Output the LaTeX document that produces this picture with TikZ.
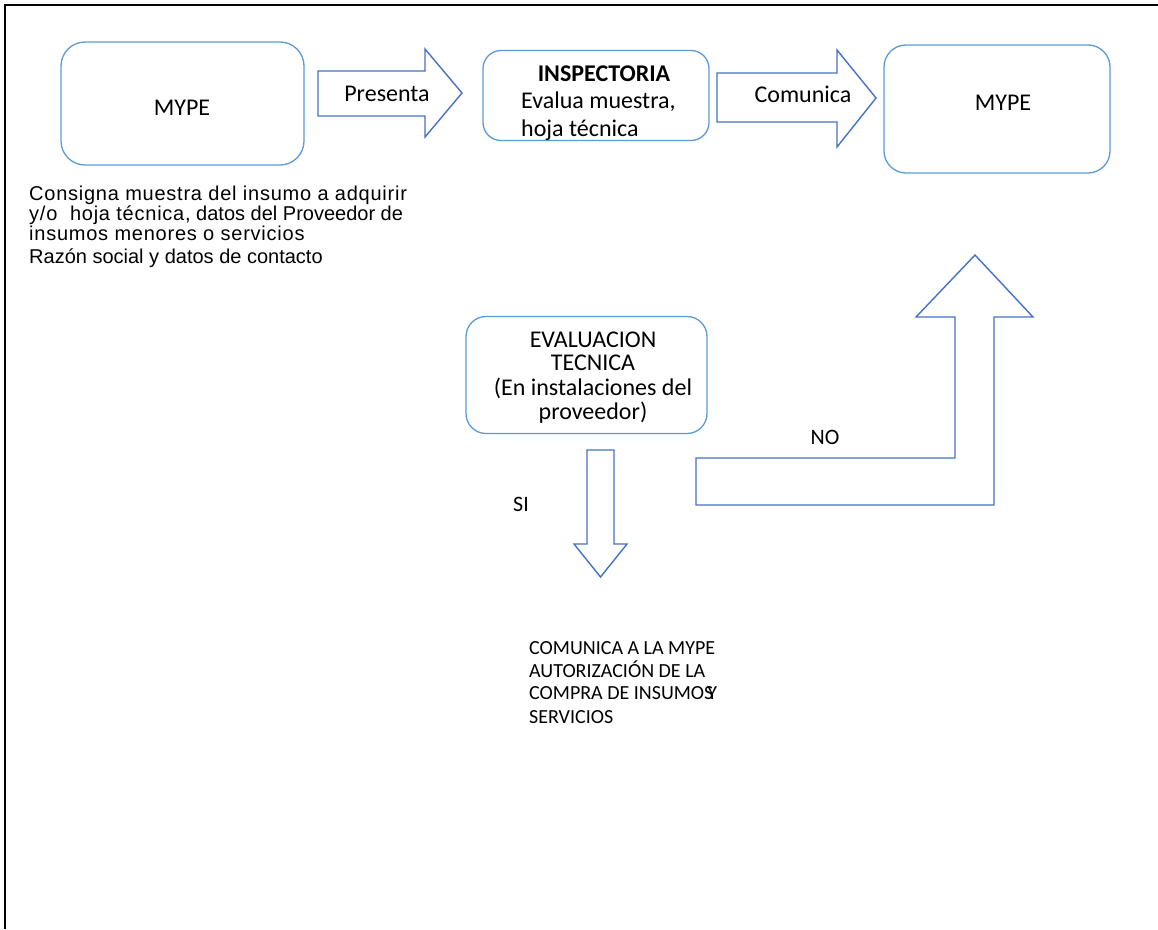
\documentclass[tikz,border=0pt]{standalone}
\usepackage{fontspec}
\setmainfont{Carlito}
\newfontfamily\arialf{Liberation Sans}
\newfontfamily\arialsp[LetterSpace=3.8]{Liberation Sans}
\definecolor{boxblue}{HTML}{5B9BD5}
\definecolor{arrblue}{HTML}{4472C4}
\tikzset{
  box/.style={draw=boxblue, line width=1.3pt, inner sep=0pt},
  barrow/.style={draw=arrblue, line width=1.4pt, line join=miter, fill=white},
  lbl/.style={inner sep=0pt, font=\fontsize{24}{24}\selectfont},
  smlbl/.style={inner sep=0pt, font=\fontsize{22}{22}\selectfont},
  bottxt/.style={inner sep=0pt, anchor=base west, font=\fontsize{20}{20}\selectfont},
  lefttxt/.style={inner sep=0pt, anchor=base west, font=\fontsize{20}{20}\arialf},
  frameline/.style={draw=black, line width=2pt}
}
\begin{document}
\begin{tikzpicture}[x=1pt,y=-1pt]
\useasboundingbox (0,0) rectangle (1158,929);
\draw[frameline] (5,929) -- (5,5) -- (1158,5);

% boxes
\node[box, rounded corners=24pt, minimum width=243pt, minimum height=123pt] (m1) at (182.5,103.5) {};
\node[box, rounded corners=18pt, minimum width=226pt, minimum height=90pt] (insp) at (596,95.5) {};
\node[box, rounded corners=22pt, minimum width=226pt, minimum height=128pt] (m2) at (997,109) {};
\node[box, rounded corners=20pt, minimum width=241pt, minimum height=117pt] (eval) at (586.5,375) {};

% block arrows
\draw[barrow] (318,71) -- (425,71) -- (425,49) -- (462,93) -- (425,137) -- (425,116) -- (318,116) -- cycle;
\draw[barrow] (717,73) -- (837,73) -- (837,50) -- (876,98) -- (837,147) -- (837,122) -- (717,122) -- cycle;
\draw[barrow] (587,450) -- (614,450) -- (614,544) -- (627,544) -- (600.5,577) -- (574,544) -- (587,544) -- cycle;
\draw[barrow] (696,458) -- (955,458) -- (955,317) -- (916,317) -- (975,255) -- (1033,317) -- (994,317) -- (994,505) -- (696,505) -- cycle;

% texts
\node[lbl, anchor=base] (tm1) at (182,115.8) {MYPE};
\node[lbl, anchor=base] (tpres) at (387,101.7) {Presenta};
\node[lbl, anchor=base] (tinsp) at (604,81.7) {\bfseries INSPECTORIA};
\node[lbl, anchor=base west] (tev1) at (521,108.7) {Evalua muestra,};
\node[lbl, anchor=base west] (tev2) at (521,136) {hoja técnica};
\node[lbl, anchor=base] (tcom) at (803,102.7) {Comunica};
\node[lbl, anchor=base] (tm2) at (1003,110.8) {MYPE};

\node[lbl, anchor=base] (e1) at (593,347.8) {EVALUACION};
\node[lbl, anchor=base] (e2) at (593,370.8) {TECNICA};
\node[lbl, anchor=base] (e3) at (593,395.8) {(En instalaciones del};
\node[lbl, anchor=base] (e4) at (593,419.8) {proveedor)};

\node[smlbl, anchor=base] (si) at (521,511) {SI};
\node[smlbl, anchor=base] (no) at (825,444) {NO};

\node[lefttxt] (l1) at (29,200) {\arialsp Consigna muestra del insumo a adquirir};
\node[lefttxt] (l2) at (29,220) {{\arialsp y/o\ \ hoja técnica,} datos del Proveedor de};
\node[lefttxt] (l3) at (29,240) {\arialsp insumos menores o servicios};
\node[lefttxt] (l4) at (29,263.5) {Razón social y datos de contacto};

\node[bottxt] (b1) at (529,654.5) {COMUNICA A LA MYPE};
\node[bottxt] (b2) at (529,677.5) {AUTORIZACIÓN DE LA};
\node[bottxt] (b3) at (529,699.5) {COMPRA DE INSUMOS\kern-6pt Y};
\node[bottxt] (b4) at (529,723.5) {SERVICIOS};
\end{tikzpicture}
\end{document}
